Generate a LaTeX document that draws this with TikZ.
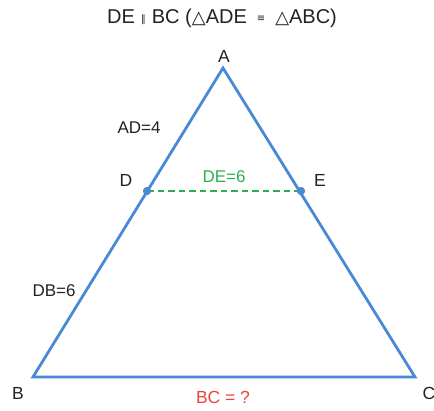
\documentclass[tikz,border=0pt]{standalone}
\usepackage{fontspec}
\setmainfont{Liberation Sans}
\newfontfamily\symfont{DejaVu Sans}
\definecolor{triblue}{HTML}{4A89D6}
\definecolor{degreen}{HTML}{2DAE55}
\definecolor{bcred}{HTML}{E8453C}
\definecolor{txt}{HTML}{222222}
\newcommand{\tri}{{\symfont\fontsize{18}{19}\selectfont △}}
\begin{document}
\begin{tikzpicture}[x=1pt,y=-1pt,
  lbl/.style={text=txt,font=\fontsize{17.5}{20}\selectfont,inner sep=0pt},
  small/.style={text=txt,font=\fontsize{17}{20}\selectfont,inner sep=0pt},
  pt/.style={circle,fill=triblue,inner sep=0pt,minimum size=8pt}]
\useasboundingbox (0,0) rectangle (434,410);
\coordinate (A) at (223,68);
\coordinate (B) at (33,377);
\coordinate (C) at (415,377);
\node[pt] (D) at (147,191) {};
\node[pt] (E) at (301,191) {};
\draw[triblue,line width=2.8pt,line join=miter] (A) -- (B) -- (C) -- cycle;
\draw[degreen,line width=2.8pt,dash pattern=on 6.5pt off 4pt] (D.center) -- (E.center);
\node[pt] at (D) {};
\node[pt] at (E) {};
\node[text=txt,font=\fontsize{20}{22}\selectfont,inner sep=0pt] (title) at (222,18)
  {DE\hspace{6pt}{\symfont\fontsize{10}{11}\selectfont\raisebox{1pt}{∥}}\hspace{6pt}BC (\tri ADE\hspace{10pt}{\symfont\fontsize{10}{11}\selectfont\raisebox{1.5pt}{≡}}\hspace{10pt}\tri ABC)};
\node[lbl] (lA) at (224,56) {A};
\node[lbl] (lB) at (18,393) {B};
\node[lbl] (lC) at (429,393) {C};
\node[lbl] (lD) at (126,180) {D};
\node[lbl] (lE) at (320,180) {E};
\node[small] (ad) at (139,128) {AD=4};
\node[small] (db) at (54,291) {DB=6};
\node[small,text=degreen] (de) at (224,177) {DE=6};
\node[lbl,text=bcred] (bc) at (223,397) {BC = ?};
\end{tikzpicture}
\end{document}
